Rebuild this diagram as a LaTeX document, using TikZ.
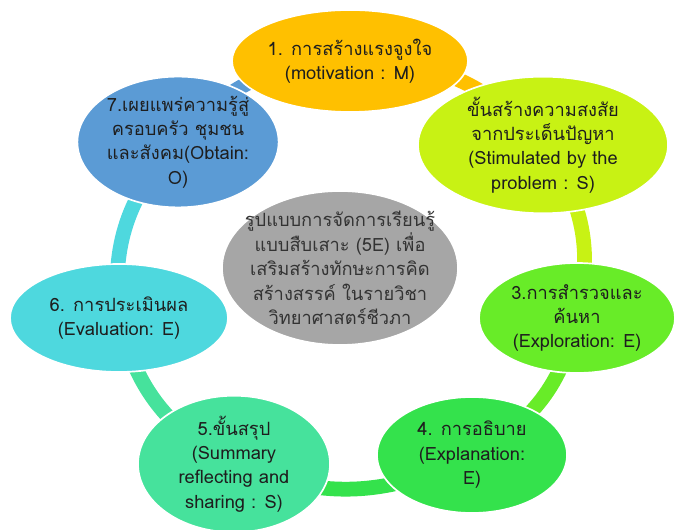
\documentclass[tikz,border=0pt]{standalone}
\usepackage{fontspec}
\setmainfont{Loma}[Script=Thai]
\usetikzlibrary{shapes.geometric,backgrounds}

\definecolor{cgold}{RGB}{255,192,0}
\definecolor{clime}{RGB}{200,242,20}
\definecolor{cgreen}{RGB}{104,236,40}
\definecolor{cmint}{RGB}{52,226,76}
\definecolor{cteal}{RGB}{70,226,156}
\definecolor{ccyan}{RGB}{78,216,222}
\definecolor{cblue}{RGB}{91,155,213}
\definecolor{cgray}{RGB}{166,166,166}
\definecolor{ctext}{RGB}{30,30,30}

\tikzset{
  phase/.style={ellipse, draw=white, line width=1.2pt, inner sep=0pt,
    align=center, text=ctext, font=\fontsize{13}{17.4}\selectfont},
  link/.style={line width=10.5pt, line cap=butt, bend left=25}
}

\begin{document}
\begin{tikzpicture}
			\useasboundingbox (0,0) rectangle (16.95,13.225);
			%%%%% the seven steps of the cycle %%%%%
			\node[phase, fill=cgold, minimum width=5.9cm, minimum height=2.55cm] (mot) at (8.75,11.7)
				{1. การสร้างแรงจูงใจ\\(motivation : M)};
			\node[phase, fill=clime, minimum width=6.25cm, minimum height=2.65cm] (stim) at (13.575,9.6)
				{ขั้นสร้างความสงสัย\\จากประเด็นปัญหา\\(Stimulated by the\\problem : S)};
			\node[phase, fill=cgreen, minimum width=4.9cm, minimum height=2.75cm] (expl) at (14.425,5.275)
				{3.การสำรวจและ\\ค้นหา\\(Exploration: E)};
			\node[phase, fill=cmint, minimum width=4.75cm, minimum height=2.9cm] (expn) at (11.8,1.85)
				{4. การอธิบาย\\(Explanation:\\E)};
			\node[phase, fill=cteal, minimum width=4.8cm, minimum height=3.15cm] (summ) at (5.85,1.625)
				{5.ขั้นสรุป\\(Summary\\reflecting and\\sharing : S)};
			\node[phase, fill=ccyan, minimum width=5.45cm, minimum height=2.7cm] (eval) at (2.975,5.275)
				{6. การประเมินผล\\(Evaluation: E)};
			\node[phase, fill=cblue, minimum width=5.0cm, minimum height=2.75cm] (obt) at (4.45,9.675)
				{7.เผยแพร่ความรู้สู่\\ครอบครัว ชุมชน\\และสังคม(Obtain:\\O)};

			%%%%% model in the middle %%%%%
			\node[phase, fill=cgray, text=black!80, inner xsep=-0.4cm, inner ysep=-0.3cm,
				minimum width=5.9cm, minimum height=3.85cm] (model) at (8.5,6.525)
				{รูปแบบการจัดการเรียนรู้\\แบบสืบเสาะ (5E) เพื่อ\\เสริมสร้างทักษะการคิด\\สร้างสรรค์ ในรายวิชา\\วิทยาศาสตร์ชีวภา};

			%%%%% arcs behind the ellipses %%%%%
			\begin{pgfonlayer}{background}
				\draw[link, cgold] (mot.center) to (stim.center);
				\draw[link, clime] (stim.center) to (expl.center);
				\draw[link, cgreen] (expl.center) to (expn.center);
				\draw[link, cmint] (expn.center) to (summ.center);
				\draw[link, cteal] (summ.center) to (eval.center);
				\draw[link, ccyan] (eval.center) to (obt.center);
				\draw[link, cblue] (obt.center) to (mot.center);
			\end{pgfonlayer}
\end{tikzpicture}
\end{document}
